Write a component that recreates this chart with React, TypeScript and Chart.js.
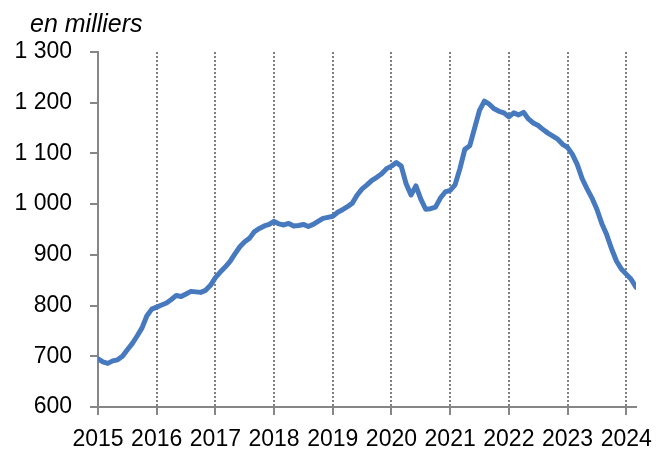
import React, { useEffect, useRef } from "react";
import { Chart, registerables } from "chart.js";

Chart.register(...registerables);

// Monthly values, Jan 2015 .. Mar 2024 (en milliers)
const values: number[] = [
  695, 689, 686, 691, 693, 700, 713, 725, 740, 756, 780, 793,
  797, 801, 805, 812, 820, 818, 823, 828, 827, 826, 830, 840,
  855, 866, 876, 887, 902, 916, 926, 933, 946, 952, 957, 960,
  966, 961, 959, 962, 957, 958, 960, 956, 960, 966, 972, 974,
  976, 984, 989, 995, 1002, 1018, 1030, 1038, 1047, 1053, 1060, 1070,
  1075, 1082, 1075, 1040, 1018, 1036, 1010, 990, 991, 994, 1012, 1024,
  1027, 1038, 1070, 1108, 1115, 1150, 1185, 1203, 1197, 1188, 1183, 1180,
  1172, 1180, 1176, 1181, 1168, 1160, 1155, 1147, 1140, 1134, 1128, 1118,
  1112, 1098, 1078, 1050, 1030, 1012, 990, 962, 940, 912, 888, 872,
  862, 852, 836,
];

const years: string[] = ["2015", "2016", "2017", "2018", "2019", "2020", "2021", "2022", "2023", "2024"];
const yTicks: number[] = [600, 700, 800, 900, 1000, 1100, 1200, 1300];
const unitLabel = "en milliers";

const fmt = (v: number) =>
  v >= 1000 ? `${Math.floor(v / 1000)} ${String(v % 1000).padStart(3, "0")}` : String(v);

const unitTitle = {
  id: "unitTitle",
  afterDraw(chart: any) {
    const ctx = chart.ctx;
    ctx.save();
    ctx.fillStyle = "#000";
    ctx.font = "italic 25px 'Liberation Sans'";
    ctx.textAlign = "left";
    ctx.textBaseline = "alphabetic";
    ctx.fillText(unitLabel, 30, 32);
    ctx.restore();
  },
};

export default function App() {
  const ref = useRef<HTMLCanvasElement | null>(null);

  useEffect(() => {
    if (!ref.current) return;
    const axisGray = "#868686";
    const chart = new Chart(ref.current, {
      type: "line",
      data: {
        datasets: [
          {
            data: values.map((v, i) => ({ x: i, y: v })),
            borderColor: "#4679BD",
            borderWidth: 5,
            borderJoinStyle: "round",
            borderCapStyle: "round",
            pointRadius: 0,
            tension: 0,
            fill: false,
          },
        ],
      },
      plugins: [unitTitle],
      options: {
        responsive: false,
        animation: false,
        layout: { padding: { left: 0, right: 23, top: 52, bottom: 0 } },
        plugins: {
          legend: { display: false },
          tooltip: { enabled: false },
          title: { display: false },
        },
        scales: {
          x: {
            type: "linear",
            min: 0,
            max: values.length - 1,
            afterBuildTicks: (scale: any) => {
              scale.ticks = years.map((_, i) => ({ value: i * 12 }));
            },
            afterFit: (scale: any) => {
              scale.height = 50;
              scale.paddingLeft = 0;
              scale.paddingRight = 0;
            },
            ticks: {
              autoSkip: false,
              maxRotation: 0,
              padding: 11,
              color: "#000",
              font: { family: "Liberation Sans", size: 23 },
              callback: (v: any) => years[Math.round(Number(v) / 12)] ?? "",
            },
            grid: {
              drawOnChartArea: true,
              color: "#7f7f7f",
              lineWidth: 2,
              drawTicks: true,
              tickLength: 8,
              tickColor: axisGray,
              tickWidth: 2,
              tickBorderDash: [],
            },
            border: { display: true, color: axisGray, width: 2, dash: [2, 2] },
          },
          y: {
            type: "linear",
            min: 600,
            max: 1300,
            afterBuildTicks: (scale: any) => {
              scale.ticks = yTicks.map((v) => ({ value: v }));
            },
            afterFit: (scale: any) => {
              scale.width = 98;
            },
            ticks: {
              padding: 18,
              color: "#000",
              font: { family: "Liberation Sans", size: 23 },
              callback: (v: any) => fmt(Number(v)),
            },
            grid: {
              drawOnChartArea: false,
              drawTicks: true,
              tickLength: 8,
              color: axisGray,
              lineWidth: 2,
            },
            border: { display: true, color: axisGray, width: 2 },
          },
        },
      },
    } as any);
    return () => chart.destroy();
  }, []);

  return (
    <div style={{ position: "absolute", left: 0, top: 0, width: 659, height: 457 }}>
      <canvas ref={ref} width={659} height={457} />
    </div>
  );
}
